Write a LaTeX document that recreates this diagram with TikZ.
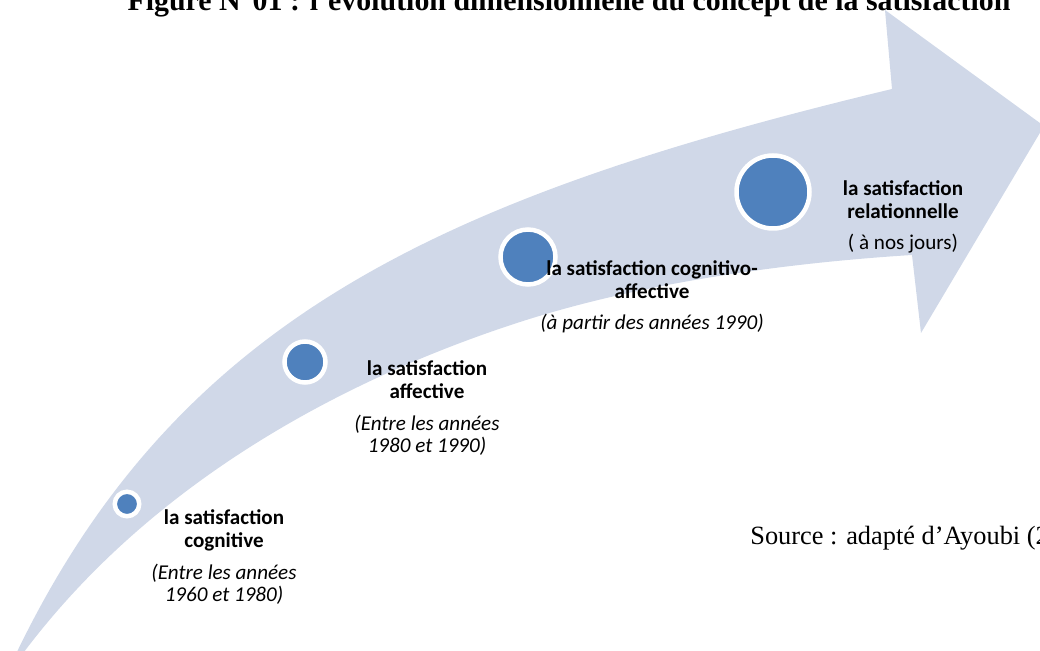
\documentclass[tikz,border=0pt]{standalone}
\usepackage{fontspec}
\setmainfont{Liberation Serif}
\newfontfamily\labelfont{Carlito}
\usepackage{tikz}
\usetikzlibrary{positioning}
\definecolor{bandfill}{RGB}{208,216,232}
\definecolor{dotblue}{RGB}{79,129,189}

\begin{document}
\begin{tikzpicture}[x=0.2mm, y=-0.2mm,
    dot/.style={circle, fill=dotblue, draw=white, line width=0.9mm, inner sep=0pt},
    stage/.style={align=center, inner sep=0pt, anchor=base, font=\labelfont\fontsize{12}{13}\selectfont}
]
\useasboundingbox (0,0) rectangle (1040,651);
\clip (0,0) rectangle (1040,651);

% curved band with its arrow head
\fill[bandfill] (15,656) .. controls (177,318) and (442,197) .. (892,89)
    -- (885,10) -- (1044,126) -- (921,333) -- (912,255)
    .. controls (800,262) and (650,280) .. (520,322)
    .. controls (390,364) and (168,458) .. (21,656)
    -- cycle;

% title and source
\node[anchor=base, inner sep=0pt, font=\bfseries\fontsize{17}{20}\selectfont] (title) at (569,11) {Figure N°01 : l’évolution dimensionnelle du concept de la satisfaction};
\node[anchor=base west, inner sep=0pt, font=\fontsize{15}{18}\selectfont] (source) at (750,545) {Source : adapté d’Ayoubi (2};

% stages
\node[dot, minimum size=4.9mm] (cogn) at (127,504) {};
\node[dot, minimum size=8.2mm] (affe) at (305,362) {};
\node[dot, minimum size=11mm] (coaf) at (528,257) {};
\node[dot, minimum size=14.6mm] (rela) at (773,192) {};

% labels sit on the baseline of their last line
\node[stage] (cognlab) at (224,602) {\textbf{la satisfaction}\\\textbf{cognitive}\\[5pt]\textit{(Entre les années}\\\textit{1960 et 1980)}};
\node[stage] (affelab) at (427,453) {\textbf{la satisfaction}\\\textbf{affective}\\[5pt]\textit{(Entre les années}\\\textit{1980 et 1990)}};
\node[stage] (coaflab) at (652,330) {\textbf{la satisfaction cognitivo-}\\\textbf{affective}\\[5pt]\textit{(à partir des années 1990)}};
\node[stage] (relalab) at (903,250) {\textbf{la satisfaction}\\\textbf{relationnelle}\\[5pt]( à nos jours)};

\end{tikzpicture}
\end{document}
